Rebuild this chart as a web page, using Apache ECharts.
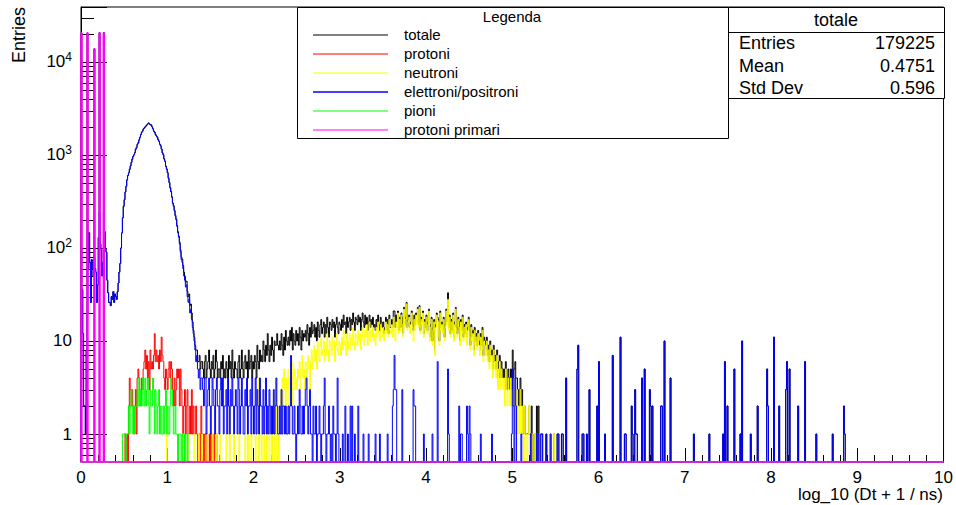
<!DOCTYPE html>
<html><head><meta charset="utf-8">
<script src="https://cdn.jsdelivr.net/npm/echarts@6/dist/echarts.min.js"></script>
<style>html,body{margin:0;padding:0;background:#fff}#c{width:956px;height:505px}</style>
</head><body><div id="c"></div>
<script>
// ---- binning / axis ranges ----
const BIN = 0.01, NBINS = 1000;
const Y_MIN = 0.5, Y_MAX = 39000;
const xTickLabels = ['0','1','2','3','4','5','6','7','8','9','10'];
const yTickLabels = ['1','10','10{s|2}','10{s|3}','10{s|4}'];
const yMinorTickValues = [0.6,0.7,0.8,0.9,2,3,4,5,6,7,8,9,20,30,40,50,60,70,80,90,200,300,400,500,600,700,800,900,2000,3000,4000,5000,6000,7000,8000,9000,20000,30000];

const seriesNames = ['totale','protoni','neutroni','elettroni/positroni','pioni','protoni primari'];
const seriesColors = ['#000000','#ff0000','#ffff00','#0000ff','#00ff00','#ff00ff'];

const statsLabels = ['Entries','Mean','Std Dev'];
const statsValues = ['179225','0.4751','0.596'];

// ---- totale (black) ----
const totaleLowStart = 0.00;
const totaleLow = [20500,36,12,2,2,1,8,20560,60,146, 70,26,75,60,50,13880,60,55,26,40,
 130,20740,110,95,50,70,20740,150,100,90, 45,33,26,26,24,30,28,34,26,32,
 30,28,34,42,55,68,100,145,211,281, 331,401,462,542,602,643,703,764,835,905,
 967,1006,1056,1158,1208,1307,1360,1460,1560,1660, 1760,1810,1912,1960,2012,2060,2112,2160,2210,2160,
 2112,2110,2010,1915,1810,1760,1662,1610,1560,1462, 1410,1310,1260,1160,1062,1010,912,860,760,710,
 650,568,508,446,406,356,305,285,255,225, 205,175,150,134,115,95,80,76,65,55,
 50,43,44,34,30,32,24,25,20,16];
const totaleMidStart = 1.30;
const totaleMid = [13,11,9,8,8,6,6,7,5,6, 6,5,4,6,7,4,5,6,8,5, 4,6,5,7,4,5,8,6,4,5, 5,4,6,5,7,4,5,4,6,5,
 4,7,5,6,4,8,5,4,6,5, 5,4,6,7,4,5,8,5,4,6, 7,5,6,4,8,5,6,7,4,6, 5,7,6,4,9,6,5,8,6,7,
 6,10,8,6,9,7,12,8,6,9, 7,11,8,6,10,9,9,12,9,8, 10,8,12,9,7,11,8,13,10,9, 11,9,13,10,14,8,12,10,9,13,
 10,12,9,14,11,8,13,10,12,11, 13,10,15,12,9,14,11,16,12,13, 15,11,14,10,16,13,11,15,17,12, 14,16,11,15,12,18,14,11,16,15,
 13,17,14,16,11,15,18,14,12,16, 15,13,17,14,19,15,16,12,18,14, 16,18,13,17,15,20,16,13,18,17, 15,19,16,18,13,17,20,16,14,19,
 15,18,13,16,19,14,17,15,18,14, 15,13,17,14,19,15,13,18,16,14, 16,12,14,18,13,17,12,19,14,14, 17,14,21,21,14,19,16,21,13,18,
 14,20,18,12,23,15,18,26,14,17, 19,14,16,21,15,13,19,15,20,16, 23,15,24,13,18,16,21,12,17,14, 19,13,16,22,11,15,18,10,14,17,
 8,15,20,18,17,10,21,14,16,13, 18,11,15,22,16,33,14,19,12,17, 13,20,11,16,23,14,12,18,16,10, 17,13,19,11,15,12,16,11,14,18,
 13,9,15,11,13,8,14,10,12,9, 13,10,8,12,9,14,7,11,10,8, 11,7,9,6,10,7,8,5,9,6, 7,5,8,4,6,7,4,6,5,4,
 5,3,6,4,3,5,4,3,5,3, 8,4,5,6,4,4,2,3,2,4, 2,3,1,1,2,1,1,1,1,2, 1,1,2,1,0,0,1,0,2,0, 2,1,0,1,1,1,0,0,0,1];

// ---- protoni (red) ----
const protoniStart = 0.50;
const protoni = [0,1,0,1,0, 2,4,3,2,3,2, 1,2,3,1, 4,5,4,3, 2,4,3,5,6, 8,5,7, 4,6,3, 8,5,6,5, 7,12,6,
 8,6,7,5,8,6, 11,7, 6,4,3,5,4,3, 5,6,4,6,5,3,2, 4,2,3,5,4, 5,2,5,3,2,1, 2,3,1,2,3,1, 1,2,1,3,1,2,
 1,1,2,1,0,1,1,0,2,1, 1,0,1,1,0,1,0,0,1,0,1,0,0,1,0,0,1,0,0];

// ---- neutroni (yellow) ----
const neutroniLow = [[0.99,1],[1.18,1],[1.24,1],[1.31,1],[1.36,1],[1.40,1],[1.46,1],[1.52,1],[1.57,1],[1.61,1],[1.68,1],[1.72,2],[1.77,1],[1.83,1],[1.90,1],[1.93,1],[1.97,1],[2.02,2],[2.06,4],[2.09,1],[2.12,1],[2.15,1],[2.18,2],[2.21,1],[2.24,3],[2.26,4],[2.28,1]];
const neutroniStart = 2.30;
const neutroni = [2,3,1,4,2,5,3,2,4,3, 5,2,4,3,6,2,4,5,3,4, 3,5,4,6,3,5,7,4,5,3, 6,4,5,7,5,3,6,8,5,7,
 9,6,8,5,10,7,6,9,11,7, 8,10,6,9,7,12,8,6,10,9, 7,11,8,10,6,9,12,8,7,10, 9,7,11,8,13,9,10,7,12,8,
 10,12,8,11,9,14,10,8,12,11, 9,13,10,12,8,11,14,10,9,13, 11,15,9,12,16,10,13,11,14,10, 12,9,14,11,16,12,10,15,13,11,
 14,10,13,16,12,15,11,17,13,12, 15,11,18,13,10,16,14,20,12,17, 13,19,15,11,22,14,17,25,13,16, 18,12,15,20,14,10,17,13,19,15,
 22,14,23,12,17,15,20,11,16,13, 18,12,15,21,10,14,17,9,13,16, 7,14,19,11,16,9,20,13,15,12, 17,10,14,21,15,28,13,18,11,16,
 12,19,10,15,22,13,11,17,14,9, 16,12,18,10,14,11,15,9,13,17, 11,8,14,10,12,7,13,9,11,8, 12,9,7,11,8,13,6,10,9,7,
 10,6,8,5,9,6,7,4,8,5, 6,4,7,3,5,6,3,5,4,3, 4,2,5,3,2,4,3,2,4,2, 3,2,4,1,2,3,1,2,1,3,
 1,2,1,0,2,1,1,0,1,2, 1,0,1,1,0,0,1,0,1,0, 0,1,0,0,0,1,0,0,0,0];
const neutroniHigh = [[5.44,1],[5.48,1]];

// ---- elettroni/positroni (blue) ----
const elecPeakStart = 0.00;
const elecPeak = [4,35,12,2,2,1,8,20,60,145, 70,26,75,60,50,80,60,55,26,40, 130,240,110,95,50,70,240,150,100,90,
 45,33,26,26,24,30,28,34,26,32, 30,28,34,42,55,68,100,145,210,280, 330,400,460,540,600,640,700,760,830,900,
 960,1000,1050,1150,1200,1300,1350,1450,1550,1650, 1750,1800,1900,1950,2000,2050,2100,2150,2200,2150,
 2100,2100,2000,1900,1800,1750,1650,1600,1550,1450, 1400,1300,1250,1150,1050,1000,900,850,750,700,
 640,560,500,440,400,350,300,280,250,220, 200,170,145,130,110,90,75,70,60,50,
 45,38,40,30,26,28,20,22,17,14, 12,10,8,6,7,5,4,5,3,4];
const elecMidStart = 1.40;
const elecMid = [4,3,2,4,4,1,2,3,4,2,1,2,4,3,2,1,3,4,2,2, 1,3,4,2,4,1,2,2,3,1,4,2,1,3,2,4,2,1,2,3,
 2,1,4,3,1,2,4,2,1,1,3,2,4,1,2,2,3,1,4,2, 1,2,4,1,3,2,1,4,2,2,1,3,1,2,4,1,2,1,3,2,
 1,2,1,3,1,2,4,2,1,1,2,1,3,1,2,2,1,2,1,1, 2,1,2,7,2,1,1,2,1,0,1,2,1,3,2,1,1,2,1,2,
 3,4,2,1,2,3,1,1,0,2,1,1,2,0,1,1,2,1,0,1, 1,2,4,1,0,1,1,2,1,0,1,0,2,1,1,0,1,4,1,0];
const elecTail = [[3.03,1],[3.06,2],[3.09,1],[3.12,2],[3.14,2],[3.17,1],[3.21,2],[3.27,1],[3.33,1],[3.41,1],[3.46,1],[3.55,1],
 [3.61,2],[3.62,3],[3.63,7],[3.64,3],[3.65,3],[3.72,3],[3.85,3],[3.86,2],[3.87,2],[3.97,1],[4.07,1],[4.13,6],[4.25,5],[4.26,1],
 [4.38,2],[4.40,1],[4.41,1],[4.47,2],[4.48,1],[4.50,2],[4.51,1],[4.63,1],[4.76,1],[4.99,1],[5.00,5],[5.01,2],[5.03,4],[5.04,2],
 [5.10,1],[5.21,1],[5.28,1],[5.30,1],[5.33,1],[5.34,1],[5.39,1],[5.44,1],[5.52,1],[5.53,1],[5.57,1],[5.58,1],[5.62,4],[5.75,5],
 [5.76,9],[5.81,1],[5.82,1],[5.86,1],[5.89,3],[5.98,2],[6.00,6],[6.07,1],[6.16,7],[6.25,11],[6.30,1],[6.31,1],[6.38,2],[6.39,1],
 [6.42,3],[6.43,1],[6.44,1],[6.50,4],[6.53,5],[6.59,3],[6.60,2],[6.62,2],[6.72,2],[6.73,2],[6.76,10],[6.83,4],[7.10,1],[7.28,1],
 [7.44,1],[7.46,6],[7.49,2],[7.57,5],[7.64,1],[7.66,10],[7.76,1],[7.84,2],[7.95,5],[7.96,2],[8.03,11],[8.09,2],[8.17,3],[8.18,6],
 [8.21,5],[8.31,2],[8.39,6],[8.52,1],[8.71,1],[8.84,2],[8.85,1]];

// ---- pioni (green) ----
const pioniStart = 0.45;
const pioni = [0,0,0,1,1, 1,1,0,1,1, 2,1,2,3,2, 1,2,1,2,2, 3,2,4,2,3, 2,4,3,2,4, 2,3,4,2,1, 3,2,2,4,3,
 1,3,2,1,2, 3,1,2,1,1, 2,1,2,3,1, 2,1,1,2,4, 3,2,1,1,2, 1,1,0,1,1, 1,0,1,0,0, 1,0,0,1,0];

// ---- protoni primari (magenta) ----
const primari = [[0.00,20500],[0.07,20500],[0.15,13800],[0.21,20500],[0.26,20500]];

// ---- build bins ----
function emptyBins(){ return new Array(NBINS).fill(0); }
function putDense(b, x0, vals){ const s = Math.round(x0 / BIN); vals.forEach((v, k) => { if (s + k < NBINS) b[s + k] = v; }); }
function putSparse(b, pairs){ pairs.forEach(p => { b[Math.round(p[0] / BIN)] = p[1]; }); }

const bTot = emptyBins(); putDense(bTot, totaleLowStart, totaleLow); putDense(bTot, totaleMidStart, totaleMid);
putSparse(bTot, elecTail.filter(p => p[0] > 5.395)); putSparse(bTot, neutroniHigh);
const bPro = emptyBins(); putDense(bPro, protoniStart, protoni);
const bNeu = emptyBins(); putSparse(bNeu, neutroniLow); putDense(bNeu, neutroniStart, neutroni); putSparse(bNeu, neutroniHigh);
const bEle = emptyBins(); putDense(bEle, elecPeakStart, elecPeak); putDense(bEle, elecMidStart, elecMid); putSparse(bEle, elecTail);
const bPio = emptyBins(); putDense(bPio, pioniStart, pioni);
const bPri = emptyBins(); putSparse(bPri, primari);
const allBins = [bTot, bPro, bNeu, bEle, bPio, bPri];
const lineWidths = [1, 1, 1, 1, 1, 1.6];

function histPath(b){
  const pts = [[0, Y_MIN]]; let prev = null;
  for (let i = 0; i < NBINS; i++) {
    const v = b[i] > 0 ? b[i] : Y_MIN; const x = +(i * BIN).toFixed(4);
    if (prev === null) pts.push([x, v]);
    else if (v !== prev) { pts.push([x, prev]); pts.push([x, v]); }
    prev = v;
  }
  pts.push([10, prev]); pts.push([10, Y_MIN]);
  return pts;
}

const FONT = '"Liberation Sans", Arial, Helvetica, sans-serif';
const chart = echarts.init(document.getElementById('c'), null, {renderer: 'svg'});

const series = allBins.map((b, k) => ({
  type: 'line', name: seriesNames[k], data: histPath(b), symbol: 'none', showSymbol: false,
  color: seriesColors[k],
  lineStyle: {color: seriesColors[k], width: lineWidths[k]}, itemStyle: {color: seriesColors[k]},
  animation: false, silent: true, clip: false, z: 3 + k * 0.01
}));
series.push({
  type: 'custom', name: 'yminor', data: yMinorTickValues.map(v => [0, v]), silent: true, animation: false, z: 2,
  renderItem: (params, api) => {
    const p = api.coord([api.value(0), api.value(1)]);
    const y = Math.round(p[1]) + 0.5;
    return {type: 'line', shape: {x1: p[0], y1: y, x2: p[0] + 13, y2: y}, style: {stroke: '#000', lineWidth: 1}};
  }
});

// ROOT-style legend box: sample line + label for each series
const legendEntries = [];
seriesNames.forEach((n, k) => {
  const y = 35 + 19 * k;
  legendEntries.push({type: 'line', z: 12, shape: {x1: 313, y1: y, x2: 388, y2: y}, style: {stroke: seriesColors[k], lineWidth: k === 3 ? 1.6 : 1.2}});
  legendEntries.push({type: 'text', z: 12, x: 404, y: y - 1, style: {text: n, font: '15px ' + FONT, fill: '#000', textAlign: 'left', textVerticalAlign: 'middle'}});
});

chart.setOption({
  backgroundColor: '#fff',
  color: seriesColors,
  animation: false,
  grid: {left: 81, top: 7, width: 863, height: 455, show: true, borderColor: '#000', borderWidth: 1, backgroundColor: 'transparent'},
  xAxis: {
    type: 'value', min: 0, max: 10, interval: 1,
    axisLine: {show: true, onZero: false, lineStyle: {color: '#000', width: 1}},
    axisTick: {show: true, inside: true, length: 14, lineStyle: {color: '#000'}},
    minorTick: {show: true, splitNumber: 5, length: 7, lineStyle: {color: '#000'}},
    splitLine: {show: false},
    axisLabel: {color: '#000', fontSize: 17, lineHeight: 14, fontFamily: FONT, margin: 8, formatter: v => xTickLabels[Math.round(v)] || ''}
  },
  yAxis: {
    type: 'log', logBase: 10, min: Y_MIN, max: Y_MAX,
    axisLine: {show: true, lineStyle: {color: '#000', width: 1}},
    axisTick: {show: true, inside: true, length: 26, lineStyle: {color: '#000'}},
    minorTick: {show: false}, splitLine: {show: false},
    axisLabel: {
      color: '#000', fontSize: 17, fontFamily: FONT, margin: 9,
      formatter: v => { const e = Math.log10(v); const r = Math.round(e); return Math.abs(e - r) < 1e-6 && r >= 0 && r < yTickLabels.length ? yTickLabels[r] : ''; },
      rich: {s: {fontSize: 12, fontFamily: FONT, color: '#000', padding: [0, 0, 9, 0]}}
    }
  },
  graphic: [
    {type: 'rect', z: 10, shape: {x: 297.5, y: 7.5, width: 431, height: 131}, style: {fill: '#fff', stroke: '#000', lineWidth: 1}},
    {type: 'text', z: 11, x: 512, y: 16, style: {text: 'Legenda', font: '15px ' + FONT, fill: '#000', textAlign: 'center', textVerticalAlign: 'middle'}},
    ...legendEntries,
    {type: 'rect', z: 10, shape: {x: 728.5, y: 7.5, width: 216, height: 91}, style: {fill: '#fff', stroke: '#000', lineWidth: 1}},
    {type: 'line', z: 11, shape: {x1: 728.5, y1: 32.5, x2: 944.5, y2: 32.5}, style: {stroke: '#000', lineWidth: 1}},
    {type: 'text', z: 11, x: 836, y: 20, style: {text: seriesNames[0], font: '18px ' + FONT, fill: '#000', textAlign: 'center', textVerticalAlign: 'middle'}},
    ...statsLabels.map((t, i) => ({type: 'text', z: 11, x: 739, y: 43 + i * 22.5, style: {text: t, font: '18px ' + FONT, fill: '#000', textAlign: 'left', textVerticalAlign: 'middle'}})),
    ...statsValues.map((t, i) => ({type: 'text', z: 11, x: 935, y: 43 + i * 22.5, style: {text: t, font: '18px ' + FONT, fill: '#000', textAlign: 'right', textVerticalAlign: 'middle'}})),
    {type: 'text', z: 11, x: 19, y: 7, rotation: Math.PI / 2, style: {text: 'Entries', font: '18px ' + FONT, fill: '#000', textAlign: 'right', textVerticalAlign: 'middle'}},
    {type: 'text', z: 11, x: 943, y: 494.5, style: {text: 'log_10 (Dt + 1 / ns)', font: '17px ' + FONT, fill: '#000', textAlign: 'right', textVerticalAlign: 'middle'}}
  ],
  series: series
});
</script></body></html>
